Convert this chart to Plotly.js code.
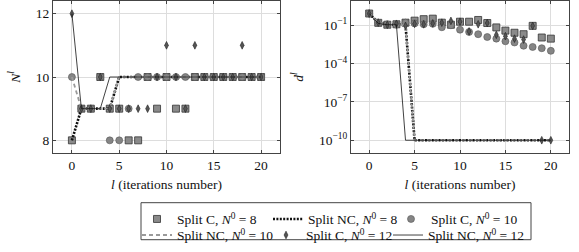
<!DOCTYPE html>
<html>
<head>
<meta charset="utf-8">
<script src="https://cdn.plot.ly/plotly-3.0.1.min.js"></script>
<style>html,body{margin:0;padding:0;background:#fff}#chart{width:579px;height:252px}</style>
</head>
<body>
<div id="chart"></div>
<script>
// ---- data ----
const iters = [0,1,2,3,4,5,6,7,8,9,10,11,12,13,14,15,16,17,18,19,20];

// Left panel: N^l
const nSplitC8   = [8,9,9,10,9,9,8,8,10,9,10,9,9,10,10,10,10,10,10,10,10];
const nSplitNC8  = [8,9,9,9,9,10,10,10,10,10,10,10,10,10,10,10,10,10,10,10,10];
const nSplitC10  = [10,9,9,10,8,8,9,10,10,10,10,10,10,10,10,10,10,10,10,10,10];
const nSplitNC10 = [10,9,9,9,9,10,10,10,10,10,10,10,10,10,10,10,10,10,10,10,10];
const nSplitC12  = [12,9,9,10,9,9,9,9,9,10,11,10,9,11,10,10,10,10,11,10,10];
const nSplitNC12 = [12,9,9,9,10,10,10,10,10,10,10,10,10,10,10,10,10,10,10,10,10];

// Right panel: d^l
const dSplitC8   = [0.83,0.155,0.11,0.12,0.16,0.23,0.3,0.33,0.16,0.11,0.19,0.19,0.26,0.15,0.068,0.038,0.026,0.02,0.09,0.011,0.009];
const dSplitNC8  = [0.83,0.16,0.11,0.11,0.11,1e-10,1e-10,1e-10,1e-10,1e-10,1e-10,1e-10,1e-10,1e-10,1e-10,1e-10,1e-10,1e-10,1e-10,1e-10,1e-10];
const dSplitC10  = [0.83,0.16,0.12,0.11,0.16,0.14,0.12,0.13,0.07,0.1,0.045,0.03,0.02,0.012,0.009,0.0056,0.0045,0.0025,0.002,0.0016,0.001];
const dSplitNC10 = [0.83,0.16,0.11,0.11,0.1,1e-10,1e-10,1e-10,1e-10,1e-10,1e-10,1e-10,1e-10,1e-10,1e-10,1e-10,1e-10,1e-10,1e-10,1e-10,1e-10];
const dSplitC12  = [0.83,0.16,0.11,0.13,0.09,0.13,0.12,0.14,0.16,0.22,0.19,0.033,0.12,0.15,0.018,0.014,0.009,0.0076,0.09,1e-10,1e-10];
const dSplitNC12 = [0.83,0.14,0.11,0.11,1e-10,1e-10,1e-10,1e-10,1e-10,1e-10,1e-10,1e-10,1e-10,1e-10,1e-10,1e-10,1e-10,1e-10,1e-10,1e-10,1e-10];

const seriesNames = ["Split C, <i>N</i><sup>0</sup> = 8","Split NC, <i>N</i><sup>0</sup> = 8","Split C, <i>N</i><sup>0</sup> = 10",
                     "Split NC, <i>N</i><sup>0</sup> = 10","Split C, <i>N</i><sup>0</sup> = 12","Split NC, <i>N</i><sup>0</sup> = 12"];
const logTickVals = [1e-10,1e-7,1e-4,1e-1];
const logTickText = ["10<sup>−10</sup>","10<sup>−7</sup>","10<sup>−4</sup>","10<sup>−1</sup>"];
const linTickVals = [8,10,12];
const xTickVals = [0,5,10,15,20];

// ---- styles ----
const FONT = "Liberation Serif";
const styles = [
  {mode:'markers', marker:{symbol:'square', size:7, color:'#8a8a8a', line:{color:'#333', width:0.8}}},
  {mode:'lines', line:{color:'#111', width:2.6, dash:'2px,1.4px'}},
  {mode:'markers', marker:{symbol:'circle', size:7, color:'#858585', line:{color:'#555', width:0.6}}},
  {mode:'lines', line:{color:'#9a9a9a', width:1.8, dash:'4px,3px'}},
  {mode:'markers', marker:{symbol:'diamond-tall', size:5.5, color:'#555', line:{color:'#222', width:0.6}}},
  {mode:'lines', line:{color:'#111', width:0.8}}
];
const nData = [nSplitC8,nSplitNC8,nSplitC10,nSplitNC10,nSplitC12,nSplitNC12];
const dData = [dSplitC8,dSplitNC8,dSplitC10,dSplitNC10,dSplitC12,dSplitNC12];
const legendIds = ['legend','legend2','legend3','legend4','legend5','legend6'];

const traces = [];
nData.forEach((ys,i)=>{
  traces.push(Object.assign({type:'scatter', x:iters, y:ys, name:seriesNames[i], xaxis:'x', yaxis:'y',
    showlegend:true, legend: legendIds[i], hoverinfo:'skip'}, styles[i]));
});
dData.forEach((ys,i)=>{
  traces.push(Object.assign({type:'scatter', x:iters, y:ys, name:seriesNames[i], xaxis:'x2', yaxis:'y2',
    showlegend:false, hoverinfo:'skip'}, styles[i]));
});

const M = {l:53, r:10, t:1, b:95};
const W = 579, H = 252;
const pw = W - M.l - M.r, ph = H - M.t - M.b;
const px = v => (v - M.l)/pw;
const py = v => (H - M.b - v)/ph;

const tfont = () => ({family:FONT, size:13.5, color:'#111'});
const axCommon = () => ({
  showgrid:true, gridcolor:'#dddddd', gridwidth:1,
  showline:true, linecolor:'#444', linewidth:1, mirror:'ticks',
  ticks:'inside', ticklen:3, tickcolor:'#444',
  zeroline:false, tickfont:tfont()
});
const xTitle = () => ({text:'<i>l</i> (iterations number)', font:tfont(), standoff:7});

// legend item placement (symbol centre x, row top y) in pixels
const legendPos = [[157,209],[288,209],[411,209],[157,225.5],[286,225.5],[408,225.5]];

const layout = {
  width:W, height:H, margin:M, paper_bgcolor:'#fff', plot_bgcolor:'#fff',
  font:{family:FONT, size:12, color:'#111'},
  xaxis: Object.assign(axCommon(), {domain:[0, px(280)], range:[-2,22], tickvals:xTickVals, title:xTitle(), anchor:'y'}),
  yaxis: Object.assign(axCommon(), {domain:[0,1], range:[7.6,12.4], tickvals:linTickVals, anchor:'x',
          title:{text:'<i>N</i><sup><i>l</i></sup>', font:tfont(), standoff:12}}),
  xaxis2: Object.assign(axCommon(), {domain:[px(351), 1], range:[-2,22], tickvals:xTickVals, title:xTitle(), anchor:'y2'}),
  yaxis2: Object.assign(axCommon(), {domain:[0,1], type:'log', range:[-11,0.9], tickvals:logTickVals, ticktext:logTickText, anchor:'x2',
          title:{text:'<i>d</i><sup><i>l</i></sup>', font:tfont(), standoff:12}}),
  shapes:[{type:'rect', xref:'paper', yref:'paper', x0:px(141), x1:px(531), y0:py(208), y1:py(246),
           line:{color:'#444', width:1}, fillcolor:'rgba(0,0,0,0)'}]
};
legendIds.forEach((id,i)=>{
  layout[id] = {orientation:'h', xanchor:'left', yanchor:'top', bgcolor:'rgba(0,0,0,0)',
    font:{family:FONT, size:13.5, color:'#111'}, itemwidth:30,
    x:px(legendPos[i][0]-20), y:py(legendPos[i][1])};
});

Plotly.newPlot('chart', traces, layout, {staticPlot:true, displayModeBar:false});
</script>
</body>
</html>
